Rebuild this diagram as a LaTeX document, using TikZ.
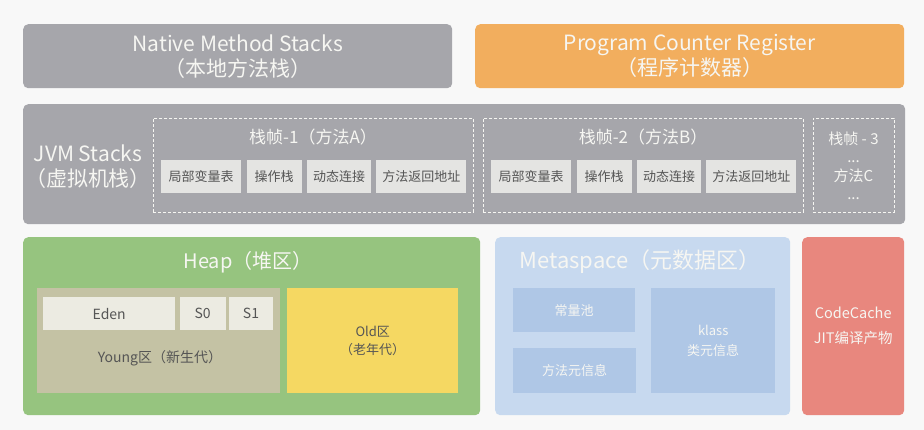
\documentclass[tikz,border=0pt]{standalone}
\usepackage{fontspec}
\setmainfont{Noto Sans CJK SC}
\usetikzlibrary{positioning}
\definecolor{pagebg}{HTML}{F8F8F8}
\definecolor{stackgray}{HTML}{A6A6AB}
\definecolor{pcorange}{HTML}{F2AE5E}
\definecolor{cellgray}{HTML}{E4E4E2}
\definecolor{heapgreen}{HTML}{96C47F}
\definecolor{younggray}{HTML}{C4C2A4}
\definecolor{edenwhite}{HTML}{ECEBE2}
\definecolor{oldyellow}{HTML}{F5D862}
\definecolor{metablue}{HTML}{C7D9EF}
\definecolor{metacell}{HTML}{AFC7E6}
\definecolor{cachered}{HTML}{E8877E}
\definecolor{softwhite}{HTML}{F6F6F2}
\definecolor{darktext}{HTML}{555555}

\begin{document}
\begin{tikzpicture}[
  x=1pt, y=-1pt,
  area/.style={fill=stackgray, rounded corners=5pt, inner sep=0pt, anchor=north west,
               text=softwhite, align=center},
  big/.style={font=\fontsize{21}{25}\selectfont},
  frame/.style={draw=softwhite, dashed, dash pattern=on 3pt off 2pt, line width=0.9pt,
                inner sep=0pt, anchor=north west, minimum height=94pt},
  cell/.style={fill=cellgray, inner sep=0pt, minimum height=33pt, text=darktext,
               font=\fontsize{13}{16}\selectfont},
  gen/.style={fill=edenwhite, inner sep=0pt, minimum height=33pt, text=darktext,
              font=\fontsize{14}{17}\selectfont},
  meta/.style={fill=metacell, inner sep=0pt, anchor=north west, text=softwhite,
               font=\fontsize{13}{20}\selectfont, align=center}
]
\fill[pagebg] (0,0) rectangle (924,430);
\useasboundingbox (0,0) rectangle (924,430);

% top row
\node[area, big, minimum width=429pt, minimum height=64pt] (nms) at (23,24)
  {Native Method Stacks\\（本地方法栈）};
\node[area, big, fill=pcorange, minimum width=429pt, minimum height=64pt] (pcr) at (475,24)
  {Program Counter Register\\（程序计数器）};

% JVM stacks
\node[area, minimum width=882pt, minimum height=120pt] (jvm) at (23,104) {};
\node[big, text=softwhite, align=center] (jvmlabel) at (88,167) {JVM Stacks\\（虚拟机栈）};

\node[frame, minimum width=320pt] (frameA) at (153,118) {};
\node[text=softwhite, font=\fontsize{17}{18}\selectfont] (titleA) at (313,137) {栈帧-1（方法A）};
\node[cell, minimum width=80pt, anchor=north west] (localsA) at (161,160) {局部变量表};
\node[cell, minimum width=55pt, right=5pt of localsA] (operA) {操作栈};
\node[cell, minimum width=64pt, right=5pt of operA] (linkA) {动态连接};
\node[cell, minimum width=90pt, right=5pt of linkA] (retA) {方法返回地址};

\node[frame, minimum width=320pt] (frameB) at (483,118) {};
\node[text=softwhite, font=\fontsize{17}{18}\selectfont] (titleB) at (643,137) {栈帧-2（方法B）};
\node[cell, minimum width=80pt, anchor=north west] (localsB) at (491,160) {局部变量表};
\node[cell, minimum width=55pt, right=5pt of localsB] (operB) {操作栈};
\node[cell, minimum width=64pt, right=5pt of operB] (linkB) {动态连接};
\node[cell, minimum width=90pt, right=5pt of linkB] (retB) {方法返回地址};

\node[frame, minimum width=81pt] (frameC) at (813,118) {};
\node[text=softwhite, align=center, font=\fontsize{15}{18.5}\selectfont] (titleC) at (853.5,166)
  {栈帧 - 3\\...\\方法C\\...};

% heap
\node[area, fill=heapgreen, minimum width=457pt, minimum height=178pt] (heap) at (23,237) {};
\node[font=\fontsize{20}{24}\selectfont, text=softwhite] (heaptitle) at (248,262) {Heap（堆区）};
\node[fill=younggray, inner sep=0pt, anchor=north west, minimum width=243pt, minimum height=105pt]
  (young) at (37,288) {};
\node[gen, minimum width=132pt, anchor=north west] (eden) at (43,297) {Eden};
\node[gen, minimum width=46pt, right=4pt of eden] (szero) {S0};
\node[gen, minimum width=44pt, right=3pt of szero] (sone) {S1};
\node[text=darktext, font=\fontsize{14}{17}\selectfont] (younglabel) at (160,358) {Young区（新生代）};
\node[fill=oldyellow, inner sep=0pt, anchor=north west, minimum width=171pt, minimum height=105pt,
      text=darktext, align=center, font=\fontsize{13}{18}\selectfont] (old) at (287,288)
  {Old区\\（老年代）};

% metaspace
\node[area, fill=metablue, minimum width=295pt, minimum height=178pt] (metaspace) at (495,237) {};
\node[font=\fontsize{22}{26}\selectfont, text=softwhite, anchor=west] (metatitle) at (516,262)
  {Metaspace（元数据区）};
\node[meta, minimum width=122pt, minimum height=44pt] (pool) at (513,288) {常量池};
\node[meta, minimum width=123pt, minimum height=45pt] (methinfo) at (513,348) {方法元信息};
\node[meta, minimum width=124pt, minimum height=105pt] (klass) at (651,288) {klass\\类元信息};

% code cache
\node[area, fill=cachered, minimum width=102pt, minimum height=178pt,
      font=\fontsize{14.5}{25}\selectfont] (cache) at (802,237) {CodeCache\\JIT编译产物};
\end{tikzpicture}
\end{document}
